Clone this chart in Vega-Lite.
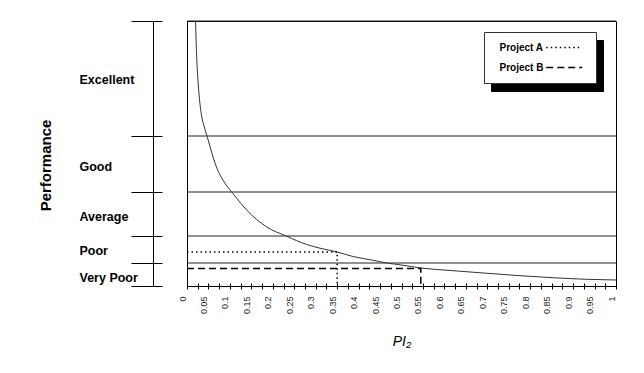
{
  "$schema": "https://vega.github.io/schema/vega-lite/v6.json",
  "width": 429,
  "height": 265,
  "autosize": "none",
  "padding": {"left": 187, "top": 21, "right": 28, "bottom": 87},
  "background": "white",
  "config": {
    "view": {"stroke": "#000", "strokeWidth": 1},
    "font": "Liberation Sans",
    "axis": {"domainColor": "#000", "tickColor": "#000", "labelColor": "#000", "titleColor": "#000", "grid": false}
  },
  "datasets": {
    "curve": [
      {"pi2": 0.020, "perf": 265}, {"pi2": 0.021, "perf": 248}, {"pi2": 0.023, "perf": 225},
      {"pi2": 0.026, "perf": 203}, {"pi2": 0.030, "perf": 183}, {"pi2": 0.035, "perf": 168},
      {"pi2": 0.041, "perf": 158}, {"pi2": 0.047, "perf": 149.5}, {"pi2": 0.054, "perf": 139},
      {"pi2": 0.061, "perf": 128.5}, {"pi2": 0.070, "perf": 117.5}, {"pi2": 0.081, "perf": 108},
      {"pi2": 0.093, "perf": 100}, {"pi2": 0.106, "perf": 93}, {"pi2": 0.139, "perf": 76},
      {"pi2": 0.186, "perf": 59}, {"pi2": 0.231, "perf": 50}, {"pi2": 0.279, "perf": 41.5},
      {"pi2": 0.31, "perf": 37.8}, {"pi2": 0.35, "perf": 34}, {"pi2": 0.387, "perf": 29.5},
      {"pi2": 0.43, "perf": 26}, {"pi2": 0.466, "perf": 23}, {"pi2": 0.5, "perf": 21},
      {"pi2": 0.545, "perf": 18}, {"pi2": 0.62, "perf": 15.3}, {"pi2": 0.7, "perf": 12.7},
      {"pi2": 0.776, "perf": 10.3}, {"pi2": 0.853, "perf": 8.3}, {"pi2": 0.932, "perf": 6.7},
      {"pi2": 1.0, "perf": 6}
    ],
    "projects": [
      {"project": "Project A", "pi2": 0, "perf": 34, "step": 1},
      {"project": "Project A", "pi2": 0.35, "perf": 34, "step": 2},
      {"project": "Project A", "pi2": 0.35, "perf": 0, "step": 3},
      {"project": "Project B", "pi2": 0, "perf": 17.5, "step": 1},
      {"project": "Project B", "pi2": 0.545, "perf": 17.5, "step": 2},
      {"project": "Project B", "pi2": 0.545, "perf": 0, "step": 3}
    ],
    "bands": [
      {"category": "Very Poor", "low": 0, "high": 23},
      {"category": "Poor", "low": 23, "high": 50},
      {"category": "Average", "low": 50, "high": 94},
      {"category": "Good", "low": 94, "high": 150},
      {"category": "Excellent", "low": 150, "high": 265}
    ]
  },
  "layer": [
    {
      "data": {"name": "bands"},
      "mark": {"type": "rule", "stroke": "#222", "strokeWidth": 1},
      "encoding": {
        "y": {"field": "high", "type": "quantitative", "scale": {"domain": [0, 265], "nice": false, "zero": false},
          "axis": {"orient": "left", "offset": 34, "values": [0, 23, 50, 94, 150, 265], "tickSize": -9, "labels": false, "domain": false, "title": null}},
        "x": {"datum": 0, "type": "quantitative", "scale": {"domain": [0, 1], "nice": false, "zero": false},
          "axis": {"orient": "bottom", "values": [0,0.025,0.05,0.075,0.1,0.125,0.15,0.175,0.2,0.225,0.25,0.275,0.3,0.325,0.35,0.375,0.4,0.425,0.45,0.475,0.5,0.525,0.55,0.575,0.6,0.625,0.65,0.675,0.7,0.725,0.75,0.775,0.8,0.825,0.85,0.875,0.9,0.925,0.95,0.975,1], "tickSize": -3, "labels": false, "domain": false, "title": null}},
        "x2": {"datum": 1}
      }
    },
    {
      "data": {"name": "curve"},
      "mark": {"type": "line", "stroke": "#333", "strokeWidth": 1, "interpolate": "monotone"},
      "encoding": {
        "x": {"field": "pi2", "type": "quantitative",
          "axis": {"orient": "bottom", "values": [0,0.05,0.1,0.15,0.2,0.25,0.3,0.35,0.4,0.45,0.5,0.55,0.6,0.65,0.7,0.75,0.8,0.85,0.9,0.95,1],
            "format": ".2~f", "ticks": false, "tickSize": 0, "domain": false, "labelAngle": -90, "labelPadding": 10, "labelOffset": -5,
            "labelFontSize": 9, "labelColor": "#222", "labelFlush": false, "labelOverlap": false, "labelBound": false,
            "title": "PI₂", "titleFontStyle": "italic", "titleFontWeight": "normal", "titleFontSize": 14,
            "titleX": 214.5, "titleY": 59, "titleBaseline": "alphabetic", "titleAlign": "center"}},
        "y": {"field": "perf", "type": "quantitative",
          "axis": {"orient": "left", "offset": 34, "values": [207, 120, 70, 36, 9], "ticks": false, "tickSize": 0, "domain": false,
            "labelAlign": "left", "labelBaseline": "middle", "labelPadding": 74,
            "labelExpr": "datum.value == 207 ? 'Excellent' : datum.value == 120 ? 'Good' : datum.value == 70 ? 'Average' : datum.value == 36 ? 'Poor' : 'Very Poor'",
            "labelFontSize": 12.5, "labelFontWeight": "bold", "labelFlush": false, "labelOverlap": false, "labelBound": false,
            "title": "Performance", "titleFontSize": 15, "titleFontWeight": "bold", "titleX": -108, "titleY": 144,
            "titleAngle": -90, "titleAlign": "center", "titleBaseline": "middle"}}
      }
    },
    {
      "data": {"name": "projects"},
      "mark": {"type": "line", "strokeWidth": 1.5},
      "encoding": {
        "x": {"field": "pi2", "type": "quantitative",
          "axis": {"orient": "bottom", "values": [0,0.025,0.05,0.075,0.1,0.125,0.15,0.175,0.2,0.225,0.25,0.275,0.3,0.325,0.35,0.375,0.4,0.425,0.45,0.475,0.5,0.525,0.55,0.575,0.6,0.625,0.65,0.675,0.7,0.725,0.75,0.775,0.8,0.825,0.85,0.875,0.9,0.925,0.95,0.975,1], "tickSize": 3, "labels": false, "domain": true, "title": null}},
        "y": {"field": "perf", "type": "quantitative",
          "axis": {"orient": "left", "offset": 34, "values": [0, 23, 50, 94, 150, 265], "tickSize": 22, "labels": false, "domain": true, "title": null}},
        "order": {"field": "step", "type": "quantitative"},
        "strokeDash": {"field": "project", "type": "nominal", "scale": {"range": [[1.5, 3], [7, 4]]},
          "legend": {"title": null, "orient": "none", "legendX": 297, "legendY": 11, "fillColor": "#fff", "strokeColor": "#333",
            "padding": 10, "symbolType": "M-4,0H4", "symbolSize": 81, "symbolStrokeWidth": 1.5, "symbolStrokeColor": "#000",
            "symbolOffset": 64.75, "labelOffset": -70.25, "labelAlign": "left", "labelFontSize": 10, "labelFontWeight": "bold",
            "labelColor": "#000", "rowPadding": 9, "zindex": 2}},
        "color": {"field": "project", "type": "nominal", "scale": {"domain": ["Project A", "Project B"], "range": ["#000", "#000"]},
          "legend": {"title": null, "orient": "none", "legendX": 304, "legendY": 19, "fillColor": "#000", "strokeColor": "#000",
            "padding": 10, "symbolType": "M-4,0H4", "symbolSize": 81, "symbolStrokeWidth": 1.5, "symbolStrokeColor": "#000",
            "symbolOffset": 64.75, "labelOffset": -70.25, "labelAlign": "left", "labelFontSize": 10, "labelFontWeight": "bold",
            "labelColor": "#000", "rowPadding": 9, "zindex": 1}}
      }
    }
  ],
  "resolve": {"axis": {"x": "independent", "y": "independent"}}
}
